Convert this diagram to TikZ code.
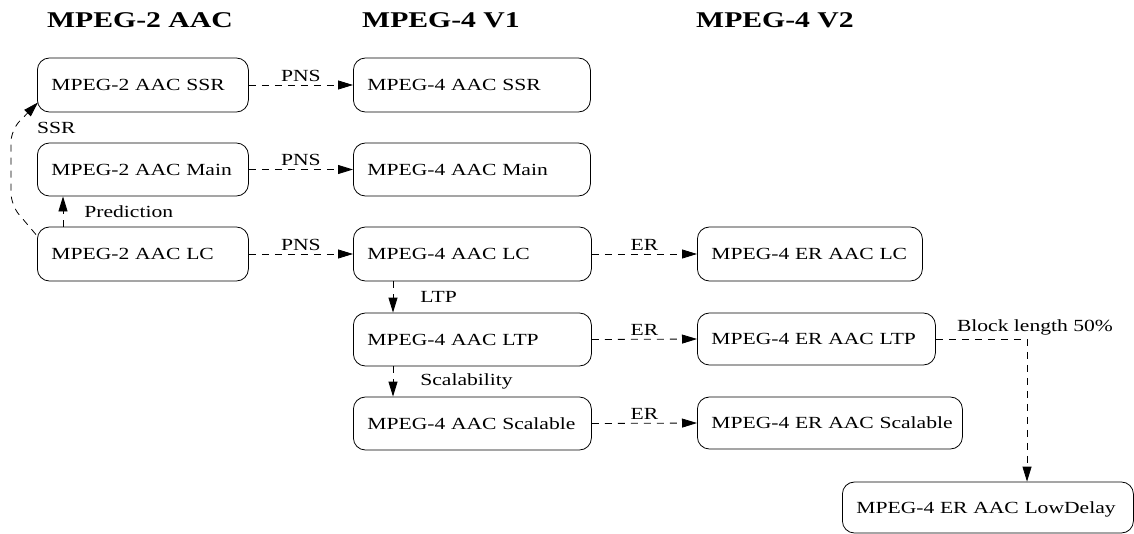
\documentclass[tikz,border=0pt]{standalone}
\usepackage{fontspec}
\setmainfont[FakeStretch=1.27]{Liberation Serif}
\newfontfamily\headfont[FakeStretch=1.32]{Liberation Serif}
\usetikzlibrary{arrows.meta,calc}
\tikzset{
  box/.style={draw=black, line width=0.8pt, rounded corners=12pt, anchor=west,
    inner xsep=14pt, inner ysep=0pt, align=left, minimum height=#1,
    font=\fontsize{17}{20}\selectfont, text height=12.5pt, text depth=1.25pt},
  box/.default=54pt,
  conn/.style={line width=0.8pt, dash pattern=on 7pt off 6pt,
    -{Triangle[length=15pt,width=9pt]}},
  lbl/.style={font=\fontsize{17}{20}\selectfont, inner sep=3pt},
  head/.style={font=\headfont\bfseries\fontsize{22.5}{26}\selectfont, anchor=base, inner sep=0pt}
}
\begin{document}
\begin{tikzpicture}[x=1pt,y=-1pt]
\useasboundingbox (0,0) rectangle (1134,533);
% headings
\node[head] (h1) at (140,27) {MPEG-2 AAC};
\node[head] (h2) at (441,27) {MPEG-4 V1};
\node[head] (h3) at (775,27) {MPEG-4 V2};
% column 1
\node[box, text width=183pt] (s2) at (37,85) {\mbox{MPEG-2 AAC SSR}};
\node[box=53pt, text width=183pt] (m2) at (37,169.5) {\mbox{MPEG-2 AAC Main}};
\node[box, text width=183pt] (l2) at (37,254) {\mbox{MPEG-2 AAC LC}};
% column 2
\node[box, text width=209pt] (s4) at (353,85) {\mbox{MPEG-4 AAC SSR}};
\node[box=53pt, text width=209pt] (m4) at (353,169.5) {\mbox{MPEG-4 AAC Main}};
\node[box, text width=210pt] (l4) at (353,254) {\mbox{MPEG-4 AAC LC}};
\node[box=53pt, text width=210pt] (ltp4) at (353,339.5) {\mbox{MPEG-4 AAC LTP}};
\node[box=53pt, text width=210pt] (sc4) at (353,423.5) {\mbox{MPEG-4 AAC Scalable}};
% column 3
\node[box, text width=197pt] (erlc) at (697,254) {\mbox{MPEG-4 ER AAC LC}};
\node[box=52pt, text width=210pt] (erltp) at (697,339) {\mbox{MPEG-4 ER AAC LTP}};
\node[box=52pt, text width=237pt] (ersc) at (697,423) {\mbox{MPEG-4 ER AAC Scalable}};
\node[box=51pt, text width=263pt] (ld) at (842,507.5) {\mbox{MPEG-4 ER AAC LowDelay}};
% horizontal connectors
\draw[conn] (s2.east) -- node[lbl, above] {PNS} (s4.west);
\draw[conn] (m2.east) -- node[lbl, above] {PNS} (m4.west);
\draw[conn] (l2.east) -- node[lbl, above] {PNS} (l4.west);
\draw[conn] (l4.east) -- node[lbl, above] {ER} (erlc.west);
\draw[conn] (ltp4.east) -- node[lbl, above] {ER} (erltp.west);
\draw[conn] (sc4.east) -- node[lbl, above] {ER} (ersc.west);
% vertical connectors
\draw[conn] ($(l2.north west)+(26,0)$) -- node[lbl, anchor=west, xshift=18pt] {Prediction} ($(m2.south west)+(26,0)$);
\draw[conn] ($(l4.south west)+(40,0)$) -- node[lbl, anchor=west, xshift=24pt] {LTP} ($(ltp4.north west)+(40,0)$);
\draw[conn] ($(ltp4.south west)+(40,0)$) -- node[lbl, anchor=west, xshift=24pt] {Scalability} ($(sc4.north west)+(40,0)$);
% SSR curve
\draw[conn, rounded corners=12pt] ($(l2.north west)+(-1,8)$) -- (11,205) -- (11,130) -- ($(s2.south west)+(1,-10)$);
\node[lbl, anchor=west, inner xsep=0pt] (ssrl) at (37,128) {SSR};
% block length
\draw[conn] (erltp.east) -| node[lbl, pos=0.114, anchor=south west, xshift=-3pt] {Block length 50\%} ($(ld.north west)+(185,0)$);
\end{tikzpicture}
\end{document}
